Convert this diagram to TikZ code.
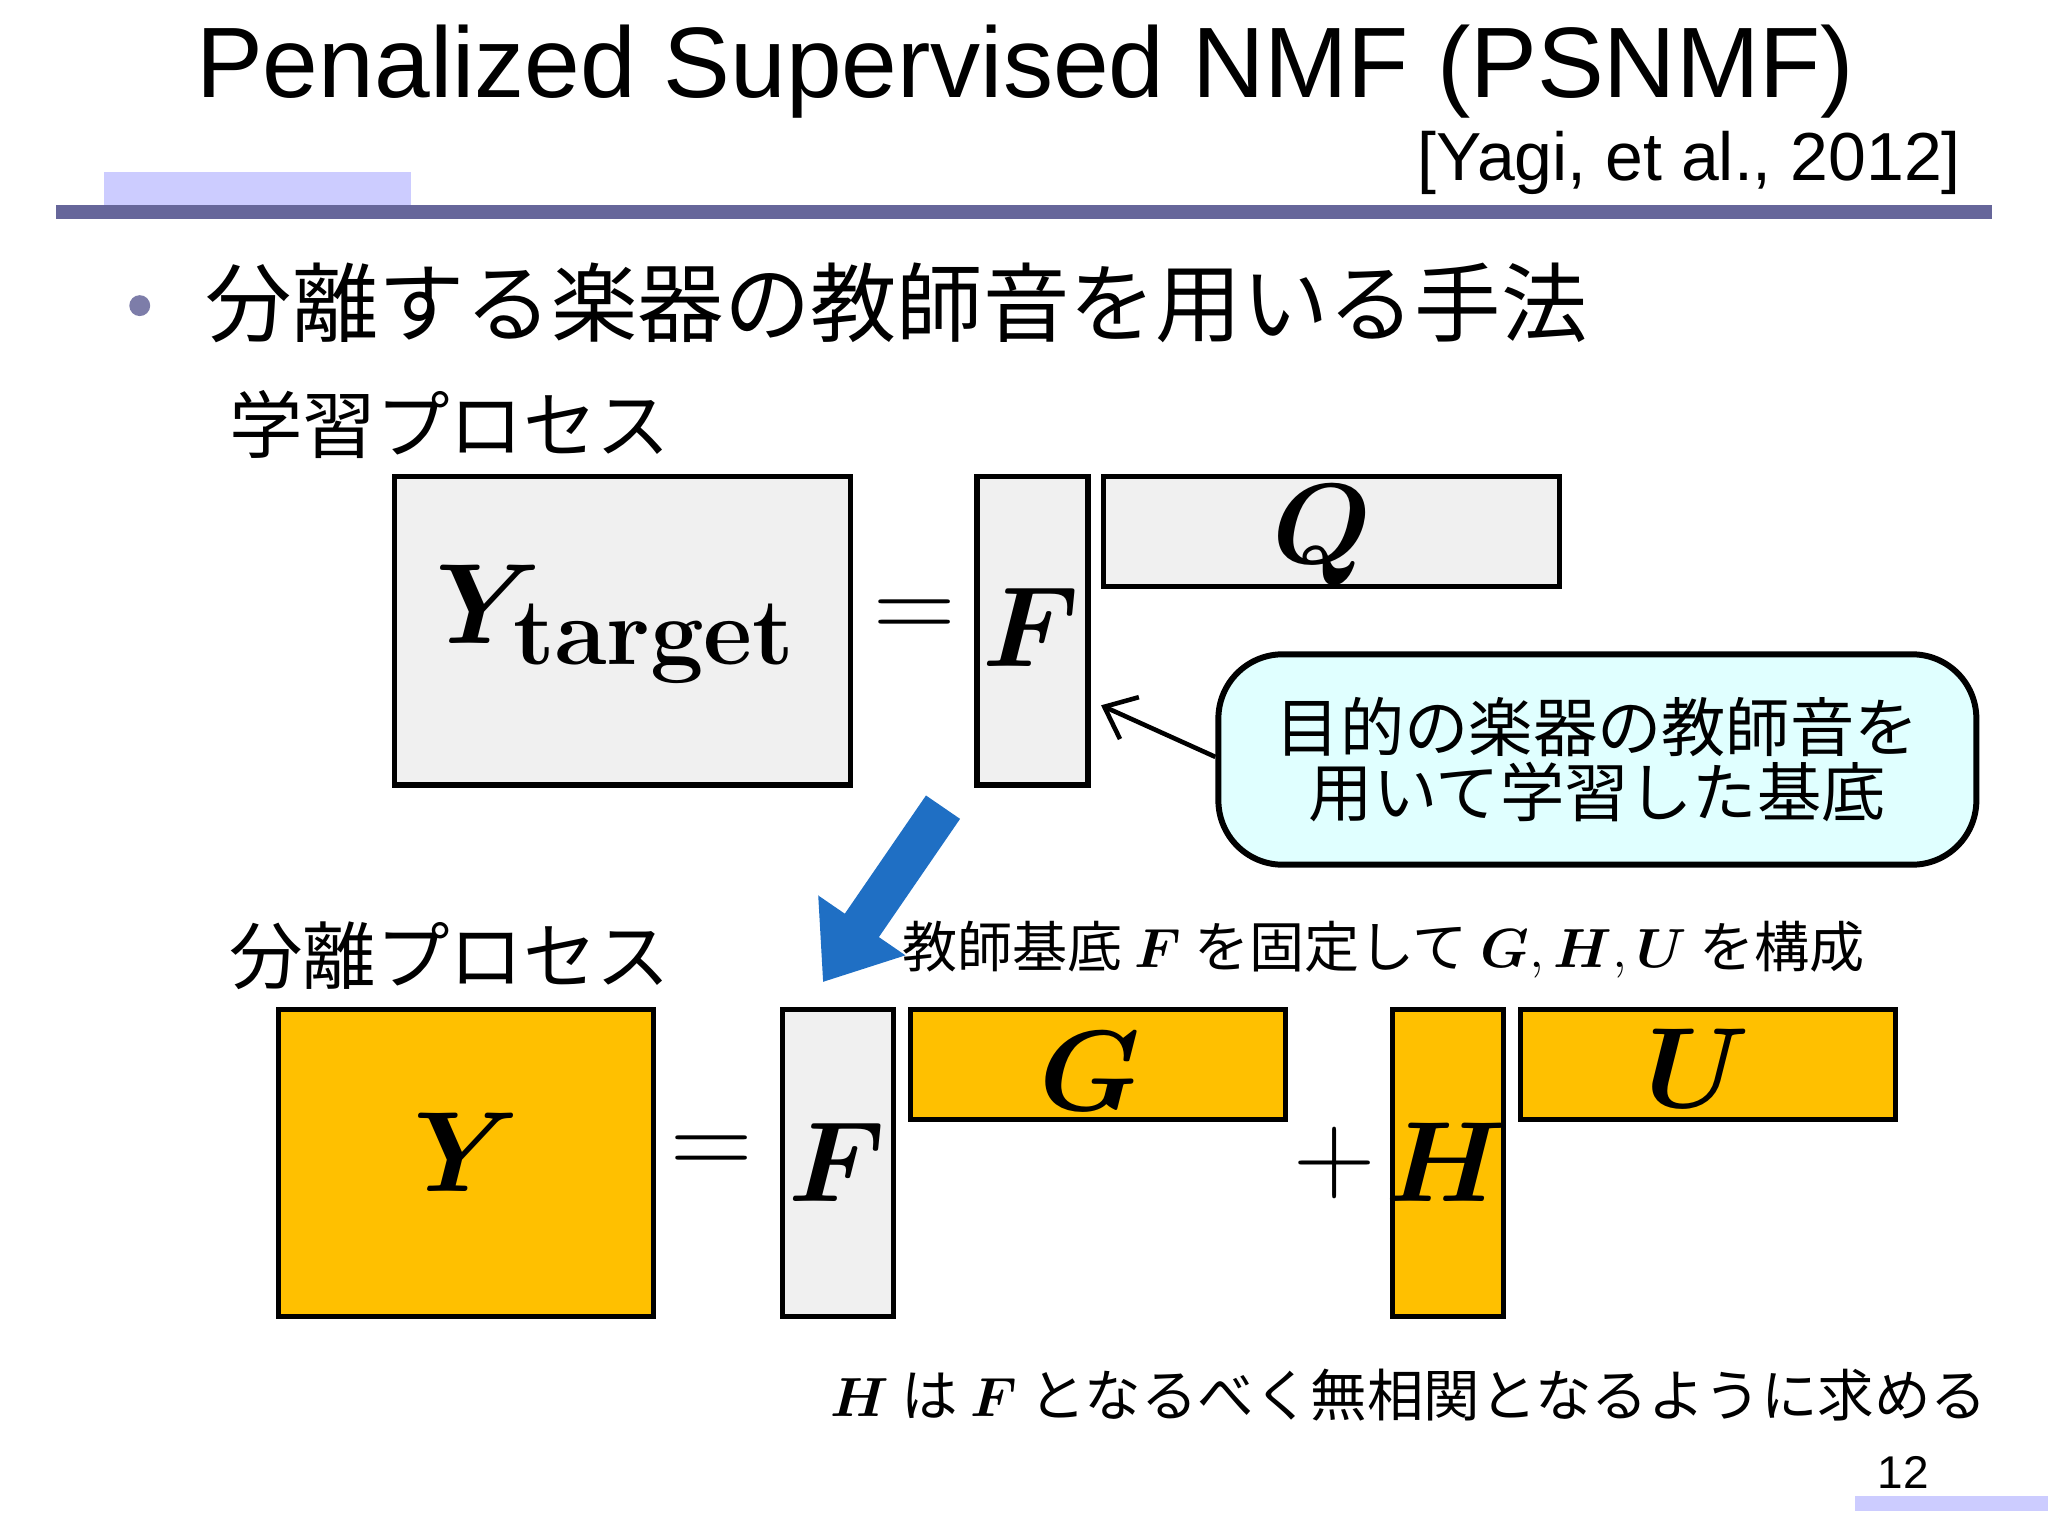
\documentclass[tikz,border=0pt]{standalone}
\usepackage{amsmath,bm}
\usepackage[no-math]{fontspec}
\setmainfont{Liberation Sans}
\newfontfamily\cjk{Noto Sans CJK JP}
\usetikzlibrary{arrows.meta}
\definecolor{barc}{HTML}{66669A}
\definecolor{lbar}{HTML}{CCCCFF}
\definecolor{orng}{HTML}{FFC000}
\definecolor{gbox}{HTML}{F0F0F0}
\definecolor{cyanb}{HTML}{E0FFFF}
\definecolor{blu}{HTML}{1F6FC4}
\newcommand{\fs}[1]{\fontsize{#1}{#1}\selectfont}
\begin{document}
\begin{tikzpicture}[x=0.01cm,y=-0.01cm,
  mat/.style={draw=black,line width=1.1pt},
  jp/.style={font=\cjk\fs{16pt},anchor=west,inner sep=0}]
\useasboundingbox (0,0) rectangle (1568,1176);
\node[font=\fs{21.8pt}] (title) at (785,55) {Penalized Supervised NMF (PSNMF)};
\node[font=\fs{14.8pt},anchor=east,inner sep=0] (ref) at (1502,125) {[Yagi, et al., 2012]};
\fill[lbar] (80,132) rectangle (315,157);
\fill[barc] (43,157) rectangle (1525,168);
\fill[barc!85] (107,234) circle (8);
\node[jp,font=\cjk\fs{18.8pt}] (bul) at (157,232) {分離する楽器の教師音を用いる手法};
\node[jp] (learn) at (175,325) {学習プロセス};
% learning
\draw[mat,fill=gbox] (302,365) rectangle (651,601);
\node[font=\fs{31pt}] (yt) at (472,478) {$\bm{Y}_{\mathbf{target}}$};
\node[font=\fs{28pt}] (eq1) at (700,475) {$=$};
\draw[mat,fill=gbox] (748,365) rectangle (833,601);
\node[font=\fs{27pt}] (f1) at (789,480) {$\bm{F}$};
\draw[mat,fill=gbox] (845,365) rectangle (1194,449);
\node[font=\fs{29pt}] (q) at (1012,410) {$\bm{Q}$};
\node[draw=black,line width=1.3pt,fill=cyanb,rounded corners=14pt,minimum width=5.8cm,minimum height=1.61cm,align=center,font=\cjk\fs{14pt}] (call) at (1223,581.5) {目的の楽器の教師音を\\用いて学習した基底};
\coordinate (ftip) at (843,540);
\draw[line width=1pt,-{Straight Barb[length=6pt,width=10pt]}] (call.west) ++(0,-2) -- (ftip);
% blue arrow
\coordinate (ba) at (722,618);
\coordinate (bb) at (630,752);
\draw[blu,line width=9pt,-{Triangle[length=15pt,width=22pt]}] (ba) -- (bb);
% separation
\node[jp] (sep) at (175,732) {分離プロセス};
\node[font=\cjk\fs{12pt},anchor=west,inner sep=0] (lbl) at (690,727) {教師基底 $\bm{F}$ を固定して $\bm{G},\bm{H},\bm{U}$ を構成};
\draw[mat,fill=orng] (213,773) rectangle (500,1008);
\node[font=\fs{31pt}] (y) at (357,882) {$\bm{Y}$};
\node[font=\fs{28pt}] (eq2) at (545,885) {$=$};
\draw[mat,fill=gbox] (599,773) rectangle (684,1008);
\node[font=\fs{27pt}] (f2) at (641,890) {$\bm{F}$};
\draw[mat,fill=orng] (697,773) rectangle (984,857);
\node[font=\fs{28pt}] (g) at (835,820) {$\bm{G}$};
\node[font=\fs{28pt}] (plus) at (1022,890) {$+$};
\draw[mat,fill=orng] (1066,773) rectangle (1151,1008);
\node[font=\fs{27pt}] (h) at (1107,890) {$\bm{H}$};
\draw[mat,fill=orng] (1164,773) rectangle (1451,857);
\node[font=\fs{28pt}] (u) at (1300,818) {$\bm{U}$};
\node[font=\cjk\fs{12.3pt},anchor=east,inner sep=0] (bot) at (1522,1068) {$\bm{H}$ は $\bm{F}$ となるべく無相関となるように求める};
\node[font=\fs{10pt}] (pg) at (1457,1127) {12};
\fill[lbar] (1420,1145) rectangle (1568,1157);
\end{tikzpicture}
\end{document}
